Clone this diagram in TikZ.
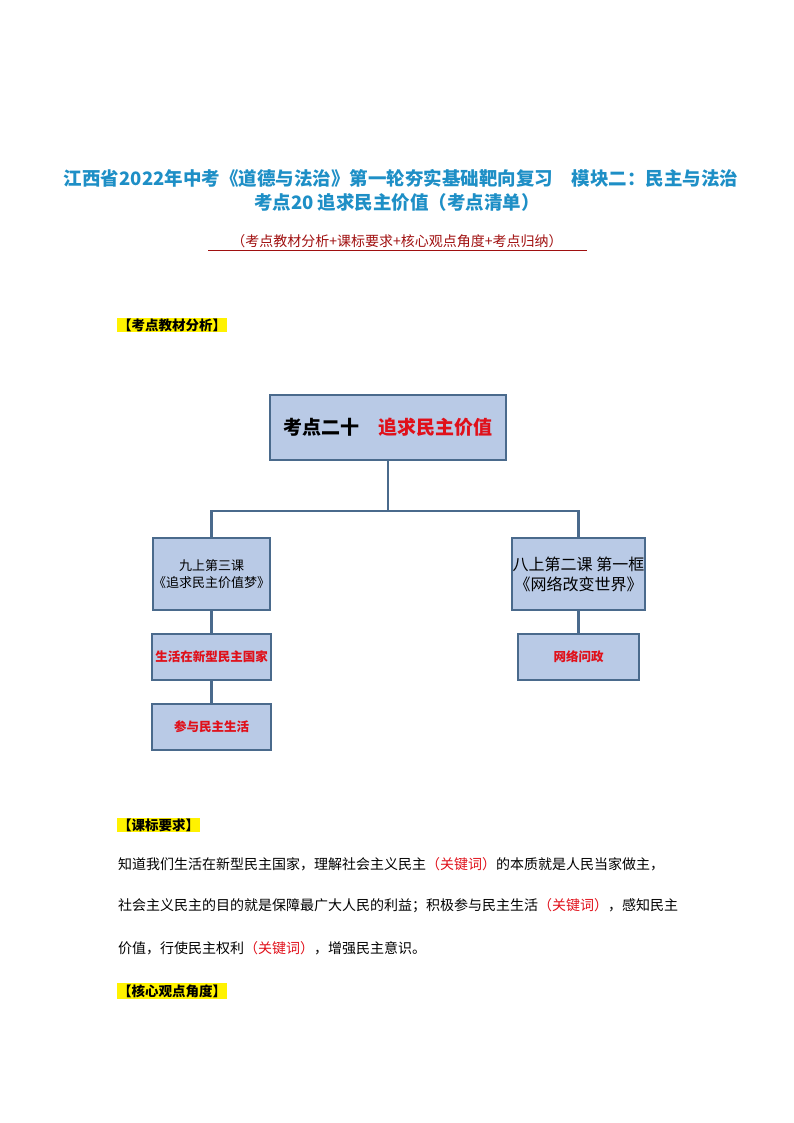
\documentclass[tikz,border=0pt]{standalone}
\usepackage{fontspec}
\setmainfont{Noto Sans CJK SC}
\newfontfamily\cjk{Noto Sans CJK SC}
\usetikzlibrary{calc}
\definecolor{ttl}{HTML}{1E8FC6}
\definecolor{drd}{HTML}{A01010}
\definecolor{bfill}{HTML}{B9CAE6}
\definecolor{bdraw}{HTML}{4A6A8C}
\definecolor{kred}{HTML}{E0101A}
\begin{document}
\begin{tikzpicture}[x=1pt,y=-1pt,
  box/.style={draw=bdraw,line width=2.2pt,fill=bfill,inner sep=0pt},
  conn/.style={draw=bdraw,line width=2.5pt},
  tag/.style={fill=yellow,inner sep=1pt,font=\fontsize{13.5}{15}\selectfont\bfseries,anchor=west},
  body/.style={anchor=west,inner sep=0pt,font=\fontsize{14}{16}\selectfont}]
\useasboundingbox (0,0) rectangle (794,1123);
\node[text=ttl,font=\fontsize{18.5}{20}\selectfont\bfseries] (t1) at (401,178) {江西省2022年中考《道德与法治》第一轮夯实基础靶向复习\quad 模块二：民主与法治};
\node[text=ttl,font=\fontsize{18.5}{20}\selectfont\bfseries] (t2) at (397,202) {考点20\ 追求民主价值（考点清单）};
\node[text=drd,font=\fontsize{14}{15}\selectfont] (t3) at (397,241) {（考点教材分析+课标要求+核心观点角度+考点归纳）};
\draw[drd,line width=0.8pt] (208,250) -- (587,250);
\node[tag] (g1) at (117,325) {【考点教材分析】};
\node[box,minimum width=236,minimum height=65] (top) at (388,427.5) {\fontsize{19}{22}\selectfont\bfseries 考点二十\quad\textcolor{kred}{追求民主价值}};
\node[box,minimum width=113,minimum height=72,align=center,font=\fontsize{13}{17}\selectfont] (l1) at (211.5,574) {九上第三课\\《追求民主价值梦》};
\node[box,minimum width=133,minimum height=72,align=center,font=\fontsize{16}{20}\selectfont] (r1) at (578.5,574) {八上第二课 第一框\\《网络改变世界》};
\node[box,minimum width=119,minimum height=46,text=kred,font=\fontsize{12.5}{15}\selectfont\bfseries] (l2) at (211.5,657) {生活在新型民主国家};
\node[box,minimum width=119,minimum height=46,text=kred,font=\fontsize{12.5}{15}\selectfont\bfseries] (l3) at (211.5,727) {参与民主生活};
\node[box,minimum width=121,minimum height=46,text=kred,font=\fontsize{12.5}{15}\selectfont\bfseries] (r2) at (578.5,657) {网络问政};
\coordinate (j) at (388,511);
\draw[conn] (top.south) -- (j);
\draw[conn] (l1.north) |- (j) -| (r1.north);
\draw[conn] (l1.south) -- (l2.north);
\draw[conn] (l2.south) -- (l3.north);
\draw[conn] (r1.south) -- (r2.north);
\node[tag] (g2) at (117,825) {【课标要求】};
\node[body] (b1) at (118,864) {知道我们生活在新型民主国家，理解社会主义民主\textcolor{kred}{（关键词）}的本质就是人民当家做主，};
\node[body] (b2) at (118,906) {社会主义民主的目的就是保障最广大人民的利益；积极参与民主生活\textcolor{kred}{（关键词）}，感知民主};
\node[body] (b3) at (118,948) {价值，行使民主权利\textcolor{kred}{（关键词）}，增强民主意识。};
\node[tag] (g3) at (117,991) {【核心观点角度】};
\end{tikzpicture}
\end{document}
